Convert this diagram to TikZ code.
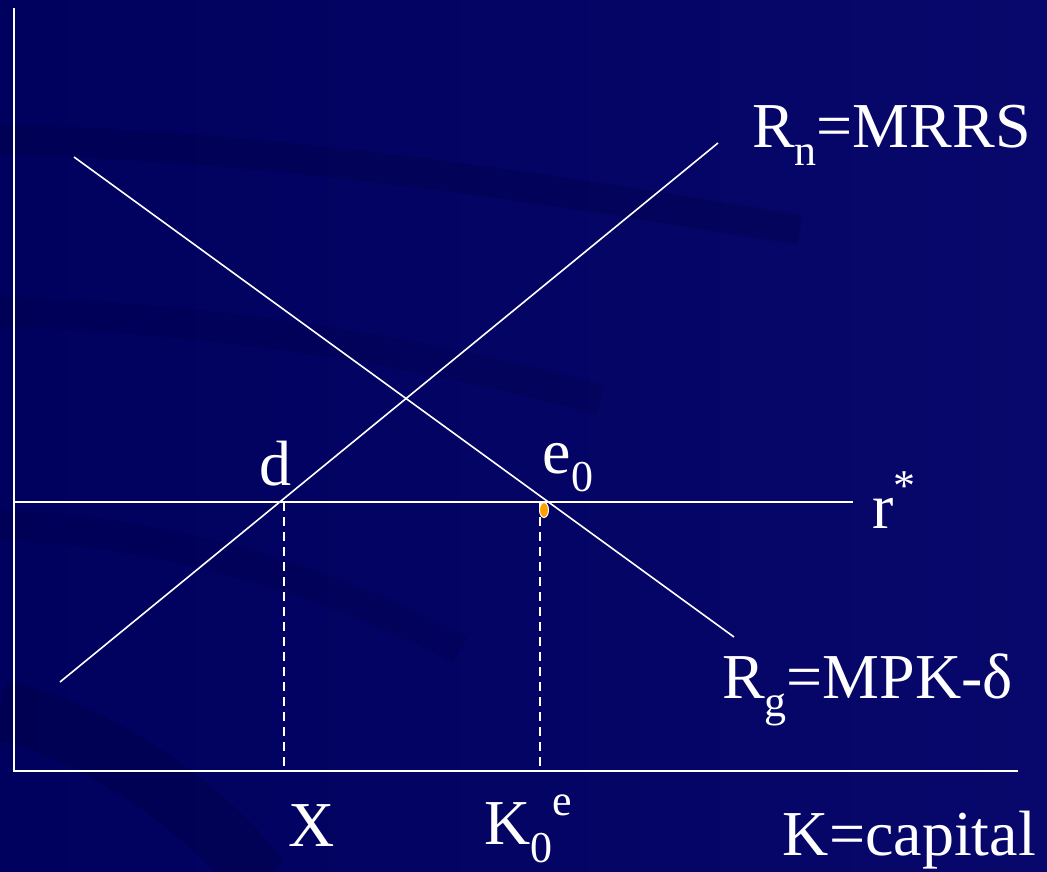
\documentclass[tikz,border=0pt]{standalone}
\usepackage{fontspec}
\setmainfont{Liberation Serif}
\usetikzlibrary{positioning,shapes.geometric}
\definecolor{slidebg}{RGB}{0,0,94}
\definecolor{slidebgr}{RGB}{8,8,108}
\definecolor{swoosh}{RGB}{0,0,60}
\definecolor{dotorange}{RGB}{255,160,0}
\newcommand{\lowtxt}[1]{\raisebox{-0.28em}{\fontsize{44}{44}\selectfont #1}}
\newcommand{\hightxt}[1]{\raisebox{0.45em}{\fontsize{44}{44}\selectfont #1}}
\tikzset{
  axisline/.style={white,line width=2pt},
  curveline/.style={white,line width=1.6pt},
  guideline/.style={white,line width=1.6pt,dashed,dash pattern=on 9pt off 6pt},
  lbl/.style={text=white,font=\fontsize{64}{66}\selectfont,inner sep=0pt},
}

\begin{document}
\begin{tikzpicture}[x=1pt,y=-1pt]
      % background
      \shade[left color=slidebg,right color=slidebgr] (0,0) rectangle (1047,872);
      \useasboundingbox (0,0) rectangle (1047,872);
      \draw[swoosh,line width=30pt,opacity=0.25] (0,140) .. controls (250,145) and (500,180) .. (800,230);
      \draw[swoosh,line width=30pt,opacity=0.2] (0,312) .. controls (200,318) and (400,345) .. (600,400);
      \draw[swoosh,line width=30pt,opacity=0.2] (0,525) .. controls (150,530) and (320,575) .. (460,650);
      \draw[swoosh,line width=60pt,opacity=0.3] (0,710) .. controls (90,730) and (200,800) .. (260,880);

      \coordinate (o) at (14,771);
      \coordinate (ytop) at (14,8);
      \coordinate (xend) at (1018,771);
      \coordinate (yleft) at (14,502);
      \coordinate (rend) at (853,502);
      \coordinate (g1) at (74,157);
      \coordinate (g2) at (734,637);
      \coordinate (n1) at (60,682);
      \coordinate (n2) at (718,143);
      \coordinate (dtop) at (284,502);
      \coordinate (dbot) at (284,771);
      \coordinate (etop) at (540,502);
      \coordinate (ebot) at (540,771);

      \node[lbl] (d) at (275,464) {d};
      \node[lbl] (e0) at (568,468) {e\lowtxt{0}};
      \node[lbl,anchor=west] (rstar) at (872,500) {r\hightxt{*}};
      \node[lbl,anchor=west] (rn) at (752,135) {R\lowtxt{n}=MRRS};
      \node[lbl,anchor=west] (rg) at (722,690) {R\lowtxt{g}=MPK-δ};
      \node[lbl] (xk) at (312,826) {X};
      \node[lbl] (k0) at (528,829) {K\lowtxt{0}\hightxt{e}};
      \node[lbl,anchor=east] (kcap) at (1036,840) {K=capital};

\draw[axisline] (ytop) -- (o) -- (xend);  % axes
      \draw[curveline] (yleft) -- (rend);  % world rate r*
      \draw[curveline] (g1) -- (g2);  % R_g
      \draw[curveline] (n1) -- (n2);  % R_n
      \draw[guideline] (dtop) -- (dbot);
      \draw[guideline] (etop) -- (ebot);
      \node[ellipse,draw=white,line width=1pt,fill=dotorange,minimum width=9pt,minimum height=15pt,inner sep=0pt] (dot) at (544,510) {};
    \end{tikzpicture}
\end{document}
